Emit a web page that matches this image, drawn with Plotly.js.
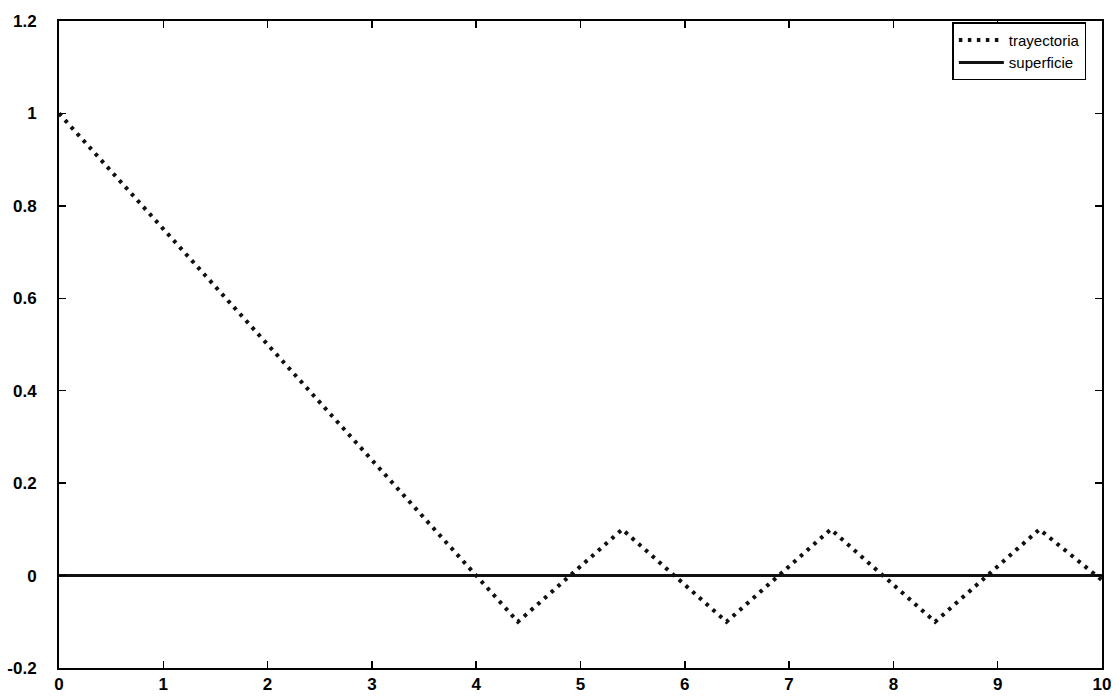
<!DOCTYPE html>
<html>
<head>
<meta charset="utf-8">
<script src="https://cdn.plot.ly/plotly-3.0.1.min.js"></script>
<style>html,body{margin:0;padding:0;background:#fff}#chart{width:1120px;height:696px}</style>
</head>
<body>
<div id="chart"></div>
<script>
var trajX = [0, 4.4, 5.4, 6.4, 7.4, 8.4, 9.4, 10];
var trajY = [1, -0.1, 0.1, -0.1, 0.1, -0.1, 0.1, -0.01];
var surfX = [0, 10];
var surfY = [0, 0];
var xTicks = [0,1,2,3,4,5,6,7,8,9,10];
var yTicks = [-0.2,0,0.2,0.4,0.6,0.8,1,1.2];
var yTickText = ['-0.2','0','0.2','0.4','0.6','0.8','1','1.2'];

var traces = [
  {x: trajX, y: trajY, mode: 'lines', name: 'trayectoria',
   line: {color: '#111', width: 4, dash: '3.5px,5.5px'}},
  {x: surfX, y: surfY, mode: 'lines', name: 'superficie',
   line: {color: '#111', width: 3}}
];
var axisCommon = {
  showgrid: false, zeroline: false, showline: true, linecolor: '#000', linewidth: 2,
  mirror: 'ticks', ticks: 'inside', ticklen: 7, tickwidth: 1.5, tickcolor: '#000',
  tickfont: {family: 'Liberation Sans, Arial, sans-serif', size: 17, color: '#000', weight: 'bold'}
};
var layout = {
  width: 1120, height: 696,
  margin: {l: 59, r: 18, t: 21, b: 28},
  paper_bgcolor: '#fff', plot_bgcolor: '#fff',
  showlegend: true,
  legend: {x: 0.985, y: 0.998, xanchor: 'right', yanchor: 'top', bgcolor: '#fff',
    bordercolor: '#000', borderwidth: 1.5, tracegroupgap: 0, itemwidth: 45,
    font: {family: 'Liberation Sans, Arial, sans-serif', size: 15, color: '#000'}},
  xaxis: Object.assign({}, axisCommon, {range: [0, 10], tickvals: xTicks, ticktext: xTicks.map(String)}),
  yaxis: Object.assign({}, axisCommon, {range: [-0.2, 1.2], tickvals: yTicks,
    ticktext: yTickText.map(function (t) { return t + '\u2002\u2002'; })})
};
Plotly.newPlot('chart', traces, layout, {displayModeBar: false, staticPlot: true});
</script>
</body>
</html>
